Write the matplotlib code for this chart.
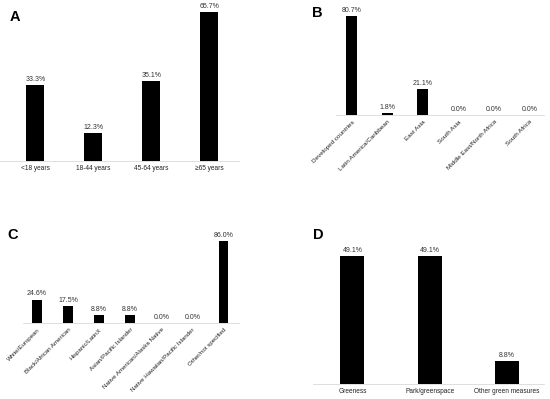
import matplotlib
matplotlib.use("Agg")
import matplotlib.pyplot as plt

plt.rcParams['font.family'] = ['Liberation Sans', 'DejaVu Sans']

# panel data
age_groups = ['<18 years', '18-44 years', '45-64 years', '\u226565 years']
age_pct = [33.3, 12.3, 35.1, 65.7]

regions = ['Developed countries', 'Latin America/Caribbean', 'East Asia',
           'South Asia', 'Middle East/North Africa', 'South Africa']
region_pct = [80.7, 1.8, 21.1, 0.0, 0.0, 0.0]

races = ['White/European', 'Black/African American', 'Hispanic/LatinX',
         'Asian/Pacific Islander', 'Native American/Alaska Native',
         'Native Hawaiian/Pacific Islander', 'Other/not specified']
race_pct = [24.6, 17.5, 8.8, 8.8, 0.0, 0.0, 86.0]

green_types = ['Greeness', 'Park/greenspace', 'Other green measures']
green_pct = [49.1, 49.1, 8.8]

W, H = 550, 399
fig = plt.figure(figsize=(W / 100, H / 100), dpi=100)


def make_ax(x0, x1, ytop, ybot):
    # pixel box -> figure fraction
    return fig.add_axes([x0 / W, (H - ybot) / H, (x1 - x0) / W, (ybot - ytop) / H])


def draw(ax, cats, vals, xlim, ymax, rot, letter, lx, ly, fs=4.7):
    xs = range(len(cats))
    ax.bar(xs, vals, width=0.31, color='black')
    for x, v in zip(xs, vals):
        ax.annotate(f'{v:.1f}%', (x, v), xytext=(0, 1.5), textcoords='offset points',
                    ha='center', va='bottom', fontsize=5.0, color='#333333')
    ax.set_xlim(*xlim)
    ax.set_ylim(0, ymax)
    ax.set_xticks(list(xs))
    if rot:
        ax.set_xticklabels(cats, rotation=45, ha='right', rotation_mode='anchor',
                           fontsize=fs, color='#222222')
    else:
        ax.set_xticklabels(cats, fontsize=fs, color='#222222')
    ax.tick_params(axis='x', length=0, pad=3)
    ax.set_yticks([])
    for s in ['top', 'right', 'left']:
        ax.spines[s].set_visible(False)
    ax.spines['bottom'].set_color('#d9d9d9')
    ax.spines['bottom'].set_linewidth(0.6)
    ax.patch.set_alpha(0)
    fig.text(lx / W, 1 - ly / H, letter, fontsize=10.5, fontweight='bold',
             ha='left', va='center')


axA = make_ax(0, 239, 5, 161)
draw(axA, age_groups, age_pct, (-0.61, 3.51), 156 / 2.27, False, 'A', 10, 17)

axB = make_ax(336, 544, 5, 115)
draw(axB, regions, region_pct, (-0.45, 5.41), 110 / 1.227, True, 'B', 312, 13, fs=4.6)

axC = make_ax(23, 239, 230, 323)
draw(axC, races, race_pct, (-0.45, 6.5), 93 / 0.955, True, 'C', 7, 235, fs=4.45)

axD = make_ax(313, 544, 245, 384)
draw(axD, green_types, green_pct, (-0.51, 2.48), 139 / 2.6, False, 'D', 313, 235)

fig.savefig('out.png', dpi=100)
